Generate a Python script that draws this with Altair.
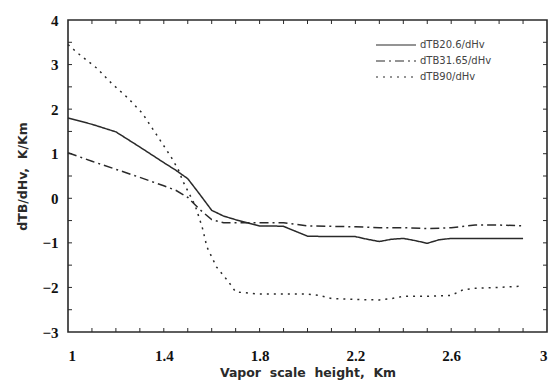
import altair as alt
import pandas as pd

# Sensitivity of brightness temperature to vapor scale height, three channels
x_206 = [1.0, 1.1, 1.2, 1.3, 1.4, 1.45, 1.5, 1.55, 1.6, 1.65, 1.7, 1.75, 1.8, 1.85,
         1.9, 1.95, 2.0, 2.1, 2.2, 2.25, 2.3, 2.35, 2.4, 2.45, 2.5, 2.55, 2.6, 2.7, 2.8, 2.9]
y_206 = [1.80, 1.66, 1.49, 1.15, 0.80, 0.63, 0.44, 0.09, -0.27, -0.40, -0.48, -0.55,
         -0.62, -0.62, -0.63, -0.74, -0.85, -0.86, -0.86, -0.92, -0.97, -0.92, -0.90,
         -0.95, -1.01, -0.93, -0.90, -0.90, -0.90, -0.90]

x_3165 = [1.0, 1.1, 1.2, 1.3, 1.4, 1.45, 1.5, 1.55, 1.6, 1.65, 1.7, 1.8, 1.9, 2.0,
          2.1, 2.2, 2.3, 2.4, 2.5, 2.6, 2.7, 2.8, 2.9]
y_3165 = [1.02, 0.83, 0.65, 0.47, 0.28, 0.18, 0.02, -0.25, -0.48, -0.55, -0.55,
          -0.55, -0.55, -0.62, -0.63, -0.64, -0.66, -0.66, -0.68, -0.66, -0.60,
          -0.60, -0.62]

x_90 = [1.0, 1.04, 1.12, 1.18, 1.25, 1.31, 1.39, 1.43, 1.46, 1.48, 1.53, 1.56, 1.58,
        1.62, 1.67, 1.7, 1.8, 1.9, 2.0, 2.05, 2.1, 2.2, 2.3, 2.35, 2.4, 2.5, 2.6,
        2.65, 2.7, 2.8, 2.9]
y_90 = [3.45, 3.26, 2.92, 2.59, 2.25, 1.91, 1.26, 0.93, 0.65, 0.38, -0.15, -0.64,
        -1.09, -1.54, -1.87, -2.10, -2.15, -2.15, -2.15, -2.18, -2.25, -2.27, -2.28,
        -2.25, -2.20, -2.20, -2.18, -2.05, -2.02, -2.00, -1.97]

series_names = ["dTB20.6/dHv", "dTB31.65/dHv", "dTB90/dHv"]
x_labels = [1, 1.4, 1.8, 2.2, 2.6, 3]
y_labels = [-3, -2, -1, 0, 1, 2, 3, 4]
x_minor = [round(1 + 0.1 * i, 1) for i in range(1, 20)]
y_minor = [round(-3 + 0.5 * i, 1) for i in range(1, 14)]

frames = []
for name, xs, ys in zip(series_names, [x_206, x_3165, x_90], [y_206, y_3165, y_90]):
    frames.append(pd.DataFrame({"h": xs, "d": ys, "series": name}))
df = pd.concat(frames, ignore_index=True)

W, H = 479, 312
INK = "#2a2a2a"
SP = "\u00a0\u00a0"  # wide word gaps in axis titles

xscale = alt.Scale(domain=[1, 3], nice=False, zero=False)
yscale = alt.Scale(domain=[-3, 4], nice=False, zero=False)

lines = alt.Chart(df).mark_line(color=INK, strokeWidth=1.5).encode(
    x=alt.X("h:Q", scale=xscale,
            axis=alt.Axis(values=x_labels, format="~g",
                          title=SP.join(["Vapor", "scale", "height,", "Km"]),
                          domain=False, ticks=False, grid=False, labelPadding=16,
                          titlePadding=3)),
    y=alt.Y("d:Q", scale=yscale,
            axis=alt.Axis(values=y_labels, format="d", title=SP.join(["dTB/dHv,", "K/Km"]),
                          domain=False, ticks=False, grid=False, labelPadding=10,
                          titlePadding=12)),
    strokeDash=alt.StrokeDash(
        "series:N",
        scale=alt.Scale(domain=series_names, range=[[1, 0], [9, 4, 2, 4], [2, 5]]),
        legend=alt.Legend(orient="none", legendX=307, legendY=17, title=None,
                          symbolType="stroke", symbolSize=1600, symbolStrokeWidth=1.2,
                          symbolStrokeColor=INK, clipHeight=16, rowPadding=0,
                          labelFont="DejaVu Sans", labelFontSize=10, labelColor="#444",
                          labelOffset=3),
    ),
    order="h:Q",
)

# inward minor ticks along the frame
ticks_bottom = alt.Chart(pd.DataFrame({"t": x_minor})).mark_rule(color=INK, strokeWidth=1).encode(
    x=alt.X("t:Q", scale=xscale), y=alt.value(H), y2=alt.value(H - 4))
ticks_top = alt.Chart(pd.DataFrame({"t": x_minor})).mark_rule(color=INK, strokeWidth=1).encode(
    x=alt.X("t:Q", scale=xscale), y=alt.value(0), y2=alt.value(4))
ticks_left = alt.Chart(pd.DataFrame({"t": y_minor})).mark_rule(color=INK, strokeWidth=1).encode(
    y=alt.Y("t:Q", scale=yscale), x=alt.value(0), x2=alt.value(4))
ticks_right = alt.Chart(pd.DataFrame({"t": y_minor})).mark_rule(color=INK, strokeWidth=1).encode(
    y=alt.Y("t:Q", scale=yscale), x=alt.value(W), x2=alt.value(W - 4))

chart = alt.layer(lines, ticks_bottom, ticks_top, ticks_left, ticks_right).properties(
    width=W, height=H,
    autosize=alt.AutoSizeParams(type="none"),
    padding={"left": 68, "top": 20, "right": 8, "bottom": 53},
    background="white",
).configure_view(
    stroke=INK, strokeWidth=1.6
).configure_axis(
    labelFont="Liberation Serif", labelFontSize=15, labelFontWeight=900, labelColor="#111",
    titleFont="DejaVu Sans", titleFontSize=12.5, titleFontWeight="bold", titleColor=INK,
)

chart.save("out.html", embed_options={"renderer": "svg", "actions": False})
